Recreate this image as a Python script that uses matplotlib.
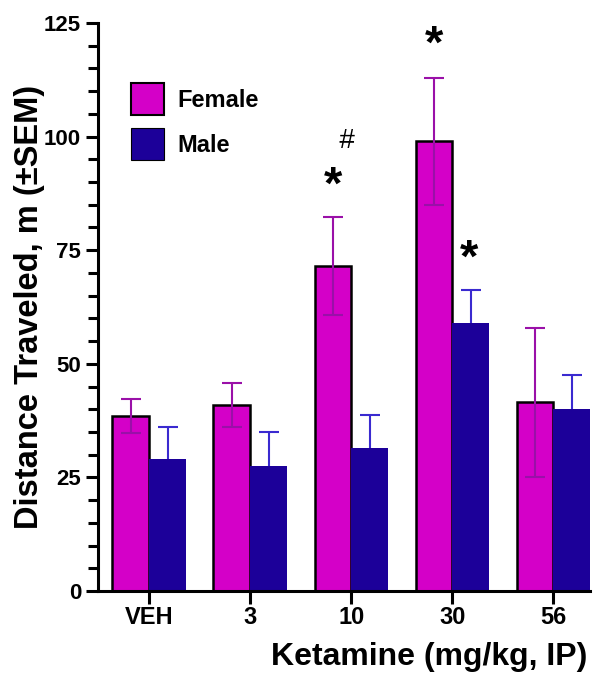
import numpy as np
import matplotlib
matplotlib.use("Agg")
import matplotlib.pyplot as plt
from matplotlib.ticker import MultipleLocator
from matplotlib.patches import Patch

plt.rcParams['font.family'] = ['Liberation Sans', 'DejaVu Sans']
plt.rcParams['font.weight'] = 'bold'

# Datos
dosis = ["VEH", "3", "10", "30", "56"]
hembra = [38.5, 41.0, 71.5, 99.0, 41.5]
hembra_sem = [3.8, 4.8, 10.8, 14.0, 16.3]
macho = [29.0, 27.5, 31.5, 59.0, 40.0]
macho_sem = [7.2, 7.5, 7.3, 7.3, 7.5]

c_hembra = "#d400c8"
c_hembra_err = "#9a10a8"
c_macho = "#1c0099"
c_macho_err = "#3a2ad0"

fig = plt.figure(figsize=(6, 6.77), dpi=100)
ax = fig.add_axes([0.163, 0.127, 0.82, 0.839])

x = np.arange(len(dosis))
w = 0.365

ax.bar(x - w / 2, hembra, w, color=c_hembra, edgecolor="black", linewidth=1.8, zorder=2)
ax.errorbar(x - w / 2, hembra, yerr=hembra_sem, fmt="none", ecolor=c_hembra_err,
            elinewidth=1.5, capsize=7, capthick=1.5, zorder=3)
ax.bar(x + w / 2, macho, w, color=c_macho, edgecolor=c_macho, linewidth=0, zorder=2)
ax.errorbar(x + w / 2, macho, yerr=macho_sem, fmt="none", ecolor=c_macho_err,
            elinewidth=1.5, capsize=7, capthick=1.5, zorder=1)

# Marcas de significancia
ax.text(2 - w / 2, 89, "*", fontsize=34, ha="center", va="center", fontweight="bold")
ax.text(2 - w / 2 + 0.13, 99, "#", fontsize=20, ha="center", va="center",
        fontweight="normal", style="italic")
ax.text(3 - w / 2, 120, "*", fontsize=34, ha="center", va="center", fontweight="bold")
ax.text(3 + w / 2 - 0.02, 73, "*", fontsize=34, ha="center", va="center", fontweight="bold")

ax.set_xlim(-0.51, 4.36)
ax.set_ylim(0, 125)
ax.set_xticks(x)
ax.set_xticklabels(dosis)
ax.yaxis.set_major_locator(MultipleLocator(25))
ax.yaxis.set_minor_locator(MultipleLocator(5))

for s in ["top", "right"]:
    ax.spines[s].set_visible(False)
for s in ["left", "bottom"]:
    ax.spines[s].set_linewidth(2.2)
ax.tick_params(axis="both", which="major", direction="out", length=9, width=2.2,
               pad=3, labelsize=16)
ax.tick_params(axis="x", which="major", pad=2, labelsize=17)
ax.tick_params(axis="y", which="minor", direction="out", length=7, width=2.2)

ax.set_ylabel("Distance Traveled, m (±SEM)", fontsize=23.5, fontweight="bold")
ax.yaxis.set_label_coords(-0.108, 0.5)
ax.set_xlabel("Ketamine (mg/kg, IP)", fontsize=23, fontweight="bold")
ax.xaxis.label.set_ha("right")
ax.xaxis.set_label_coords(0.995, -0.09)

handles = [Patch(facecolor=c_hembra, edgecolor="black", linewidth=1.5, label="Female"),
           Patch(facecolor=c_macho, edgecolor="black", linewidth=0.8, label="Male")]
ax.legend(handles=handles, loc="upper left", bbox_to_anchor=(0.024, 0.931), frameon=False,
          handlelength=1.4, handleheight=1.7, handletextpad=0.55,
          labelspacing=0.55, prop={"weight": "bold", "size": 17})

fig.savefig("out.png", dpi=100)
